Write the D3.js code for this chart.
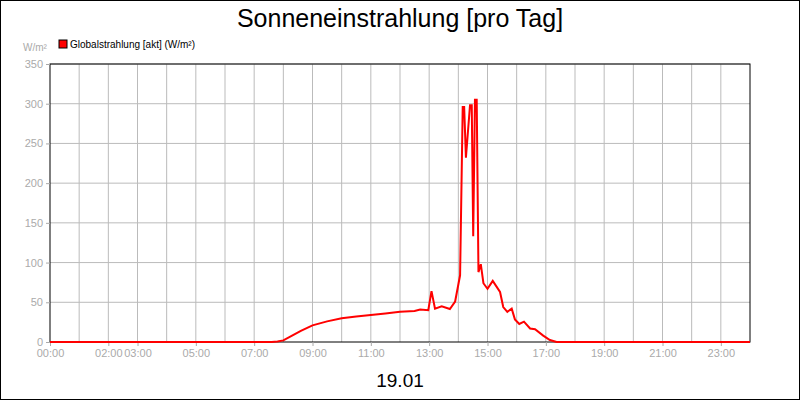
<!DOCTYPE html>
<html><head><meta charset="utf-8">
<script src="https://cdn.jsdelivr.net/npm/d3@7"></script>
<style>body{margin:0}svg{font-family:"Liberation Sans",Arial,sans-serif}</style>
</head><body><svg id="c" width="800" height="400"></svg>
<script>
// hours of day, W/m²
var hours  = [0, 7.6, 7.8, 8.0, 8.3, 8.6, 9.0, 9.5, 10, 10.5, 11, 11.5, 12, 12.5, 12.69, 12.97, 13.08, 13.2, 13.43, 13.71, 13.89, 14.06, 14.15, 14.2, 14.26, 14.4, 14.46, 14.51, 14.57, 14.63, 14.69, 14.77, 14.86, 15.0, 15.18, 15.43, 15.54, 15.68, 15.83, 15.94, 16.09, 16.25, 16.46, 16.63, 16.91, 17.14, 17.37, 24];
var values = [0, 0, 0.5, 2, 8, 14, 21, 26, 30, 32, 34, 36, 38, 39, 41, 40, 64, 42, 45, 41.5, 51, 84, 296, 296, 232, 298, 298, 133, 305, 305, 88, 98, 74, 67, 77, 63, 44, 38, 42, 28.5, 22.7, 25.6, 17, 16, 8, 2.5, 0, 0];
var tickHours = [0, 2, 3, 5, 7, 9, 11, 13, 15, 17, 19, 21, 23];
var yTicks = [0, 50, 100, 150, 200, 250, 300, 350];

var svg = d3.select("#c");
var x = d3.scaleLinear().domain([0, 24]).range([50, 750]);
var y = d3.scaleLinear().domain([0, 350]).range([342, 64]);

svg.append("rect").attr("x", 0.5).attr("y", 0.5).attr("width", 799).attr("height", 399)
  .attr("fill", "#fff").attr("stroke", "#000");

// grid
svg.append("g").selectAll("line").data(d3.range(1, 24)).enter().append("line")
  .attr("x1", d => x(d)).attr("x2", d => x(d)).attr("y1", 64).attr("y2", 342)
  .attr("stroke", "#bbb");
svg.append("g").selectAll("line").data(yTicks.slice(1)).enter().append("line")
  .attr("x1", 50).attr("x2", 750).attr("y1", d => y(d)).attr("y2", d => y(d))
  .attr("stroke", "#bbb");
svg.append("rect").attr("x", 50).attr("y", 64).attr("width", 700).attr("height", 278)
  .attr("fill", "none").attr("stroke", "#000");

var ya = svg.append("g").attr("transform", "translate(50,0)")
  .call(d3.axisLeft(y).tickValues(yTicks).tickSize(4).tickPadding(3));
ya.select(".domain").remove();
ya.selectAll("line").attr("stroke", "#aaa");
ya.selectAll("text").attr("fill", "#aaa").style("font-size", "11px");

var xa = svg.append("g").attr("transform", "translate(0,342)")
  .call(d3.axisBottom(x).tickValues(tickHours).tickSize(4).tickPadding(3)
    .tickFormat(d => d3.format("02d")(d) + ":00"));
xa.select(".domain").remove();
xa.selectAll("line").attr("stroke", "#aaa");
xa.selectAll("text").attr("fill", "#aaa").style("font-size", "11px");

svg.append("path").datum(hours.map((h, i) => [h, values[i]]))
  .attr("fill", "none").attr("stroke", "#f00").attr("stroke-width", 2)
  .attr("d", d3.line().x(d => x(d[0])).y(d => y(d[1])));

svg.append("text").attr("x", 400).attr("y", 27).attr("text-anchor", "middle")
  .style("font-size", "25px").text("Sonneneinstrahlung [pro Tag]");
svg.append("text").attr("x", 400).attr("y", 387).attr("text-anchor", "middle")
  .style("font-size", "19px").text("19.01");
svg.append("text").attr("x", 23).attr("y", 51).attr("fill", "#aaa")
  .style("font-size", "10px").text("W/m²");
svg.append("rect").attr("x", 59).attr("y", 40).attr("width", 8).attr("height", 8)
  .attr("fill", "#f00").attr("stroke", "#000");
svg.append("text").attr("x", 70).attr("y", 48).style("font-size", "10px")
  .text("Globalstrahlung [akt] (W/m²)");
</script></body></html>
